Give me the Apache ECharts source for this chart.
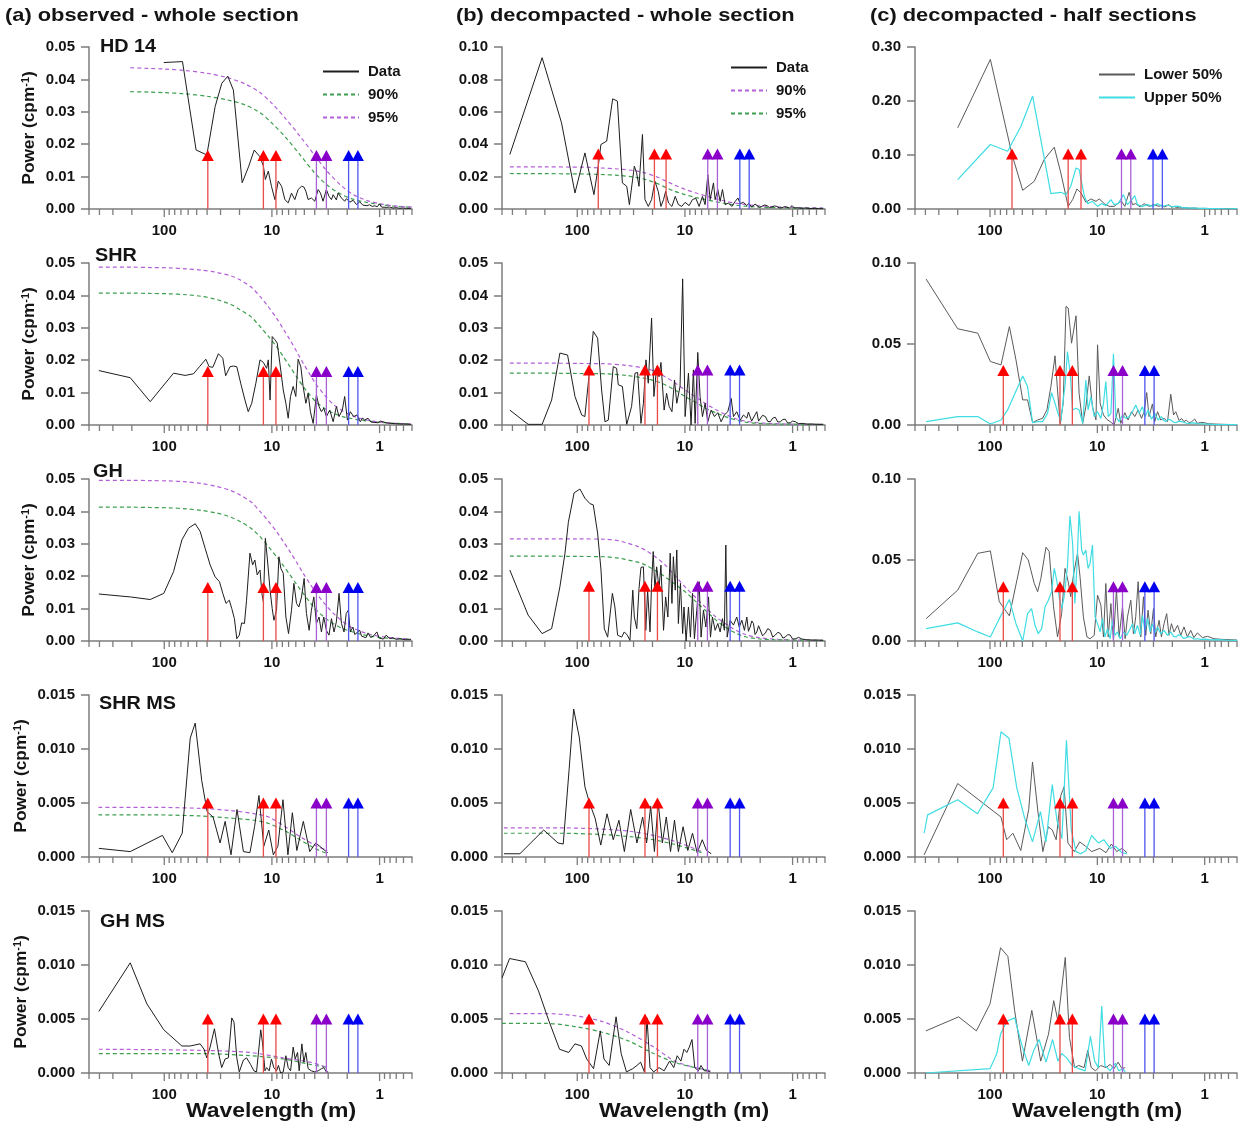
<!DOCTYPE html>
<html>
<head>
<meta charset="utf-8">
<title>Power spectra of the sections</title>
<script src="https://cdn.jsdelivr.net/npm/echarts@6.0.0/dist/echarts.min.js"></script>
<style>
html,body{margin:0;padding:0;background:#ffffff;}
#chart{width:1240px;height:1124px;}
</style>
</head>
<body>
<div id="chart"></div>
<script>
// ---------------------------------------------------------------------------
// Spectra: [wavelength (m), power (cpm^-1)]
// ---------------------------------------------------------------------------

// (a) observed - whole section
const hd14Obs = [[101,.0452],[67.7,.0455],[50.6,.0182],[40.2,.0167],[33.7,.0316],[29.2,.0388],[25.7,.0410],[22.8,.0367],[18.9,.0081],[16.5,.0130],[14.6,.0182],[12.9,.0161],[12.0,.0132],[11.5,.0091],[10.8,.0117],[10.1,.0070],[9.38,.0029],[8.74,.0086],[8.13,.0070],[7.58,.0029],[7.06,.0019],[6.58,.0049],[6.13,.0029],[5.71,.0060],[5.31,.0070],[5.05,.0068],[4.84,.0055],[4.61,.0029],[4.30,.0034],[4.00,.0024],[3.72,.0060],[3.54,.0049],[3.35,.0024],[3.12,.0060],[2.95,.0039],[2.80,.0029],[2.70,.0044],[2.61,.0039],[2.52,.0028],[2.43,.0049],[2.26,.0034],[2.18,.0040],[2.11,.0024],[2.03,.0032],[1.96,.0029],[1.89,.0021],[1.83,.0019],[1.76,.0027],[1.70,.0024],[1.64,.0014],[1.59,.0016],[1.53,.0022],[1.48,.0024],[1.43,.0012],[1.38,.0016],[1.31,.0010],[1.24,.0013],[1.17,.0008],[1.11,.0010],[1.05,.0007],[1.0,.0016],[0.96,.0006],[0.93,.0010],[0.87,.0005],[0.81,.0006],[0.75,.0003],[0.70,.0004],[0.65,.0002],[0.61,.0003],[0.56,.0002],[0.51,.0002]];
const hd14Obs90 = [[207,.0362],[140,.0361],[100,.0359],[66,.0356],[40,.0348],[26.3,.0337],[18,.0322],[13,.0298],[10,.0265],[7.5,.0222],[5.5,.0168],[4.1,.0115],[3.1,.0075],[2.3,.0046],[1.75,.0030],[1.3,.0020],[0.95,.0013],[0.7,.0008],[0.5,.0006]];
const hd14Obs95 = [[207,.0436],[140,.0434],[100,.0432],[66,.0428],[40,.0419],[26.3,.0406],[18,.0387],[13,.0360],[10,.0326],[7.5,.0280],[5.5,.0225],[4.1,.0170],[3.1,.0118],[2.3,.0074],[1.75,.0044],[1.3,.0026],[0.95,.0015],[0.7,.0009],[0.5,.0006]];

const shrObs = [[405,.0168],[207,.0146],[135,.0072],[82,.0160],[64,.0153],[53.5,.0158],[47.1,.0180],[41.1,.0203],[38.3,.0180],[35.4,.0178],[31.4,.0220],[28.6,.0206],[26.9,.0152],[24.5,.0180],[22.8,.0182],[21.2,.0180],[19.5,.0129],[17.8,.0077],[16.6,.0041],[15.4,.0067],[14.1,.0129],[12.9,.0201],[12.0,.0193],[11.2,.0175],[10.8,.0201],[10.4,.0077],[9.94,.0273],[9.38,.0263],[8.93,.0253],[8.44,.0191],[7.85,.0108],[7.42,.0067],[7.06,.0021],[6.72,.0088],[6.35,.0119],[6.0,.0088],[5.71,.0203],[5.39,.0180],[5.13,.0119],[4.84,.0067],[4.61,.0098],[4.39,.0041],[4.14,.0005],[3.86,.0093],[3.65,.0057],[3.47,.0041],[3.30,.0052],[3.12,.0026],[2.90,.0046],[2.70,.0010],[2.52,.0057],[2.38,.0026],[2.22,.0046],[2.11,.0088],[1.99,.0015],[1.87,.0041],[1.74,.0026],[1.62,.0031],[1.51,.0010],[1.44,.0022],[1.38,.0015],[1.28,.0021],[1.20,.0009],[1.15,.0010],[1.04,.0007],[0.98,.0012],[0.93,.0010],[0.85,.0006],[0.78,.0005],[0.71,.0004],[0.65,.0003],[0.58,.0003],[0.51,.0002]];
const shrObs90 = [[405,.0407],[200,.0407],[135,.0406],[90,.0405],[62,.0402],[45,.0397],[32.5,.0387],[24,.0372],[19.8,.0356],[15.5,.0333],[12.9,.0304],[10.8,.0274],[9.06,.0242],[7.8,.0210],[6.8,.0180],[5.9,.0149],[5.13,.0119],[4.4,.0091],[3.86,.0070],[3.2,.0050],[2.7,.0037],[2.2,.0026],[1.9,.0021],[1.5,.0015],[1.2,.0011],[0.93,.0007],[0.7,.0005],[0.51,.0003]];
const shrObs95 = [[405,.0487],[200,.0487],[135,.0486],[90,.0485],[62,.0482],[45,.0478],[32.5,.0471],[24,.0460],[19.8,.0448],[15.5,.0425],[12.9,.0397],[10.8,.0365],[9.06,.0330],[7.8,.0295],[6.8,.0263],[5.9,.0227],[5.13,.0191],[4.4,.0154],[3.86,.0124],[3.2,.0090],[2.7,.0064],[2.2,.0043],[1.9,.0032],[1.5,.0020],[1.2,.0013],[0.93,.0008],[0.7,.0005],[0.51,.0003]];

const ghObs = [[405,.0145],[207,.0136],[135,.0128],[101,.0147],[82,.0214],[68.6,.0312],[59.6,.0348],[51.6,.0362],[46.4,.0338],[41.7,.0286],[37.5,.0235],[33.7,.0198],[30.7,.0183],[28.6,.0147],[26.7,.0116],[24.9,.0126],[23.6,.0100],[22.3,.0069],[21.2,.0007],[20.1,.0018],[19.1,.0056],[18.0,.0054],[17.2,.0126],[16.0,.0271],[15.1,.0235],[14.4,.0250],[13.7,.0204],[12.9,.0219],[12.4,.0147],[12.0,.0121],[11.5,.0317],[11.0,.0250],[10.4,.0157],[9.94,.0100],[9.58,.0064],[9.06,.0095],[8.61,.0260],[8.26,.0224],[7.85,.0209],[7.42,.0074],[7.01,.0023],[6.58,.0095],[6.25,.0178],[5.91,.0116],[5.62,.0105],[5.31,.0136],[5.02,.0193],[4.78,.0085],[4.51,.0033],[4.30,.0095],[4.08,.0136],[3.86,.0054],[3.65,.0074],[3.47,.0028],[3.30,.0074],[3.12,.0033],[2.95,.0018],[2.80,.0069],[2.65,.0028],[2.52,.0059],[2.38,.0147],[2.26,.0054],[2.14,.0028],[2.04,.0085],[1.95,.0095],[1.87,.0028],[1.77,.0043],[1.70,.0020],[1.64,.0023],[1.53,.0033],[1.47,.0015],[1.41,.0018],[1.34,.0010],[1.28,.0025],[1.21,.0011],[1.15,.0014],[1.06,.0028],[1.01,.0009],[0.97,.0012],[0.92,.0006],[0.87,.0018],[0.80,.0007],[0.75,.0010],[0.70,.0005],[0.65,.0007],[0.58,.0004],[0.51,.0004]];
const ghObs90 = [[405,.0413],[200,.0413],[135,.0412],[90,.0411],[62,.0408],[45,.0403],[32.5,.0395],[24,.0382],[19.8,.0369],[15.5,.0347],[12.9,.0322],[10.8,.0292],[9.06,.0260],[7.8,.0232],[6.8,.0204],[5.9,.0175],[5.13,.0147],[4.4,.0118],[3.86,.0095],[3.2,.0071],[2.7,.0054],[2.2,.0038],[1.9,.0031],[1.5,.0021],[1.2,.0015],[0.93,.0010],[0.7,.0007],[0.51,.0006]];
const ghObs95 = [[405,.0496],[200,.0496],[135,.0495],[90,.0494],[62,.0491],[45,.0486],[32.5,.0477],[24,.0464],[19.8,.0451],[15.5,.0428],[12.9,.0400],[10.8,.0370],[9.06,.0338],[7.8,.0306],[6.8,.0276],[5.9,.0243],[5.13,.0209],[4.4,.0175],[3.86,.0147],[3.2,.0113],[2.7,.0086],[2.2,.0060],[1.9,.0045],[1.5,.0030],[1.2,.0020],[0.93,.0013],[0.7,.0009],[0.51,.0006]];

const shrMsObs = [[405,.0008],[207,.0005],[104,.0020],[84.3,.0004],[68.1,.0022],[57.4,.0110],[51.6,.0124],[44.9,.0071],[40,.0042],[35.2,.0037],[30.3,.0013],[27.2,.0033],[24,.0002],[21.1,.0044],[18.4,.0005],[16,.0004],[14.5,.0028],[13.2,.0057],[11.9,.0010],[10.7,.0025],[9.7,.0002],[8.8,.0010],[7.9,.0053],[7.1,.0002],[6.46,.0041],[5.87,.0006],[5.11,.0033],[4.45,.0005],[3.92,.0013],[3.41,.0008],[3.03,.0004]];
const shrMsObs90 = [[408,.0039],[134,.0039],[46.4,.0038],[24.5,.0036],[14.4,.0034],[10.7,.0031],[7.5,.0024],[5.5,.0016],[4.0,.0008],[3.05,.0003]];
const shrMsObs95 = [[408,.0046],[134,.0046],[46.4,.0045],[24.5,.0043],[14.4,.0040],[10.7,.0037],[7.5,.0028],[5.5,.0019],[4.0,.0011],[3.05,.0006]];

const ghMsObs = [[405,.0057],[207,.0102],[145,.0064],[101,.0040],[68.6,.0025],[57.4,.0025],[46.4,.0027],[42.7,.0022],[40.3,.0014],[37.5,.0024],[34.2,.0041],[31.4,.0019],[29.3,.0005],[27.2,.0013],[25.4,.0014],[23.6,.0051],[22.5,.0047],[21.2,.0014],[20.1,.0001],[18.4,.0012],[17.2,.0014],[15.8,.0008],[14.7,.0002],[13.9,.0001],[12.7,.0040],[12.2,.0027],[11.6,.0002],[11.2,.0005],[10.6,.0002],[10.1,.0013],[9.6,.0005],[9.05,.0002],[8.7,.0007],[8.3,.0000],[7.85,.0001],[7.42,.0016],[7.06,.0005],[6.71,.0002],[6.35,.0024],[6.08,.0013],[5.78,.0019],[5.58,.0002],[5.27,.0027],[5.05,.0010],[4.84,.0019],[4.61,.0004],[4.30,.0002],[4.0,.0001],[3.72,.0002],[3.47,.0004],[3.30,.0005],[3.12,.0001],[3.0,.0001]];
const ghMsObs90 = [[405,.0018],[46.4,.0018],[16,.0016],[7.85,.0013],[4.43,.0008],[3.0,.0005]];
const ghMsObs95 = [[405,.0022],[46.4,.0021],[16,.0019],[7.85,.0014],[4.43,.0010],[3.0,.0005]];

// (b) decompacted - whole section
const hd14Dec = [[423,.0336],[212,.0934],[140,.0532],[105,.0099],[84.9,.0346],[70,.0089],[63.8,.0264],[60.3,.0398],[53.3,.0419],[46.9,.0680],[42.4,.0666],[38.1,.0161],[34.7,.0140],[32.8,.0027],[29.5,.0264],[28.1,.0223],[26.7,.0140],[24.8,.0460],[23.5,.0058],[21.9,.0016],[20.4,.0058],[19.0,.0171],[17.7,.0109],[16.7,.0016],[15.8,.0058],[15.1,.0109],[14.2,.0037],[13.2,.0016],[12.3,.0078],[11.5,.0027],[10.7,.0016],[9.96,.0041],[9.14,.0021],[8.51,.0058],[7.92,.0066],[7.38,.0016],[6.87,.0078],[6.49,.0027],[6.13,.0212],[5.83,.0058],[5.43,.0161],[5.24,.0058],[4.95,.0120],[4.71,.0047],[4.48,.0120],[4.23,.0027],[3.94,.0037],[3.67,.0016],[3.41,.0047],[3.22,.0068],[3.07,.0033],[2.86,.0041],[2.66,.0021],[2.56,.0034],[2.48,.0027],[2.40,.0012],[2.31,.0016],[2.23,.0030],[2.15,.0029],[2.04,.0011],[1.93,.0016],[1.83,.0025],[1.73,.0021],[1.64,.0009],[1.56,.0012],[1.48,.0019],[1.40,.0016],[1.33,.0007],[1.26,.0008],[1.19,.0014],[1.13,.0012],[1.07,.0006],[1.01,.0021],[0.96,.0006],[0.91,.0008],[0.83,.0004],[0.76,.0006],[0.69,.0003],[0.62,.0004],[0.57,.0002],[0.52,.0002]];
const hd14Dec90 = [[423,.0260],[200,.0260],[120,.0259],[85,.0258],[60,.0253],[41.6,.0247],[30,.0237],[23.5,.0223],[18.5,.0200],[15.3,.0175],[12.5,.0148],[10,.0122],[8,.0100],[6.5,.0082],[5.2,.0064],[4.2,.0048],[3.4,.0036],[2.75,.0028],[2.1,.0021],[1.66,.0016],[1.2,.0011],[0.8,.0008],[0.52,.0006]];
const hd14Dec95 = [[423,.0219],[200,.0218],[120,.0217],[85,.0216],[60,.0213],[41.6,.0208],[30,.0197],[23.5,.0183],[18.5,.0160],[15.3,.0135],[12.5,.0110],[10,.0089],[8,.0072],[6.5,.0058],[5.2,.0045],[4.2,.0034],[3.4,.0024],[2.75,.0017],[2.1,.0012],[1.66,.0009],[1.2,.0007],[0.8,.0005],[0.52,.0004]];

const shrDec = [[423,.0046],[286,.0002],[212,.0002],[173,.0077],[145,.0222],[123,.0216],[105,.0088],[91,.0031],[85,.0026],[77.9,.0149],[71,.0289],[64.7,.0268],[59.4,.0108],[55.3,.0010],[51.5,.0015],[46.3,.0180],[43.1,.0175],[41.6,.0124],[38.1,.0119],[34.7,.0002],[31.3,.0057],[29.1,.0160],[27.5,.0162],[25.6,.0005],[24.3,.0067],[23.0,.0201],[21.9,.0129],[20.4,.0330],[19.4,.0088],[18.3,.0180],[17.4,.0149],[16.7,.0193],[15.6,.0046],[14.8,.0098],[14.0,.0057],[13.2,.0041],[12.5,.0139],[11.9,.0067],[11.1,.0119],[10.5,.0451],[9.96,.0026],[9.27,.0160],[8.77,.0000],[8.34,.0170],[8.04,.0005],[7.60,.0224],[7.23,.0088],[6.87,.0026],[6.49,.0067],[6.13,.0010],[5.71,.0046],[5.32,.0026],[4.95,.0038],[4.61,.0010],[4.30,.0031],[4.00,.0041],[3.72,.0082],[3.54,.0026],[3.30,.0041],[3.07,.0015],[2.86,.0031],[2.66,.0021],[2.57,.0040],[2.48,.0036],[2.40,.0012],[2.31,.0018],[2.22,.0033],[2.15,.0041],[2.07,.0012],[2.0,.0015],[1.90,.0030],[1.79,.0026],[1.70,.0011],[1.61,.0010],[1.53,.0021],[1.45,.0024],[1.37,.0009],[1.30,.0010],[1.23,.0017],[1.17,.0018],[1.11,.0006],[1.05,.0007],[1.0,.0012],[0.94,.0010],[0.88,.0004],[0.82,.0005],[0.74,.0003],[0.66,.0003],[0.59,.0002],[0.52,.0002]];
const shrDec90 = [[423,.0191],[200,.0191],[100,.0190],[55.3,.0189],[35,.0184],[23.5,.0175],[18.5,.0164],[15.3,.0149],[12.3,.0130],[9.96,.0108],[8,.0087],[6.49,.0067],[5.2,.0048],[4.23,.0033],[3.4,.0020],[2.75,.0012],[2.1,.0007],[1.66,.0005],[1.1,.0003],[0.52,.0002]];
const shrDec95 = [[423,.0160],[200,.0160],[100,.0159],[55.3,.0158],[35,.0153],[23.5,.0144],[18.5,.0135],[15.3,.0124],[12.3,.0107],[9.96,.0088],[8,.0070],[6.49,.0052],[5.2,.0038],[4.23,.0026],[3.4,.0016],[2.75,.0009],[2.1,.0005],[1.5,.0003],[0.52,.0002]];

const ghDec = [[423,.0219],[286,.0080],[212,.0023],[173,.0038],[145,.0167],[130,.0271],[121,.0366],[107,.0457],[94.4,.0469],[85,.0441],[76.3,.0424],[71,.0420],[64.7,.0333],[60.2,.0219],[56.1,.0038],[52.2,.0012],[47.2,.0147],[44.7,.0105],[42.2,.0018],[38.7,.0012],[36.6,.0028],[34.3,.0018],[32.4,.0002],[30.5,.0157],[29.5,.0074],[28.0,.0038],[26.7,.0162],[25.6,.0227],[24.3,.0229],[23.1,.0033],[22.2,.0157],[21.1,.0028],[20.4,.0178],[19.7,.0276],[19.0,.0157],[18.3,.0229],[17.4,.0162],[16.7,.0234],[15.8,.0033],[15.1,.0136],[14.4,.0074],[13.7,.0271],[13.2,.0116],[12.8,.0260],[12.3,.0157],[11.9,.0281],[11.5,.0054],[11.0,.0178],[10.5,.0023],[10.2,.0105],[9.75,.0000],[9.27,.0105],[8.89,.0012],[8.51,.0147],[8.16,.0007],[7.76,.0095],[7.38,.0183],[7.08,.0012],[6.73,.0095],[6.39,.0043],[6.04,.0136],[5.79,.0012],[5.55,.0074],[5.24,.0033],[4.95,.0054],[4.71,.0028],[4.48,.0069],[4.30,.0033],[4.17,.0296],[4.05,.0012],[3.80,.0064],[3.54,.0049],[3.30,.0074],[3.13,.0043],[2.96,.0064],[2.80,.0033],[2.66,.0074],[2.57,.0030],[2.48,.0043],[2.39,.0062],[2.31,.0054],[2.23,.0020],[2.15,.0028],[2.07,.0047],[2.0,.0043],[1.90,.0016],[1.79,.0025],[1.70,.0038],[1.61,.0033],[1.53,.0012],[1.45,.0018],[1.37,.0027],[1.30,.0023],[1.23,.0009],[1.17,.0012],[1.11,.0020],[1.05,.0018],[1.0,.0006],[0.94,.0007],[0.88,.0011],[0.82,.0006],[0.74,.0004],[0.66,.0003],[0.59,.0003],[0.52,.0002]];
const ghDec90 = [[423,.0315],[200,.0315],[100,.0315],[55,.0314],[42,.0310],[36,.0304],[28,.0293],[23.5,.0281],[18.5,.0258],[15.3,.0235],[12.3,.0201],[9.96,.0167],[8,.0135],[6.49,.0105],[5.2,.0075],[4.23,.0054],[3.4,.0034],[2.75,.0020],[2.1,.0011],[1.5,.0006],[1.0,.0003],[0.52,.0002]];
const ghDec95 = [[423,.0262],[200,.0262],[100,.0261],[55,.0260],[42,.0256],[36,.0252],[28,.0244],[23.5,.0235],[18.5,.0216],[15.3,.0198],[12.3,.0175],[9.96,.0152],[8,.0123],[6.49,.0095],[5.2,.0066],[4.23,.0043],[3.4,.0025],[2.75,.0013],[2.1,.0007],[1.5,.0004],[0.52,.0002]];

const shrMsDec = [[480,.0003],[341,.0003],[205,.0025],[151,.0013],[135,.0012],[119,.0081],[108,.0137],[95.8,.0111],[84.9,.0065],[76.9,.0050],[68.3,.0036],[60.5,.0011],[52.9,.0040],[46.3,.0016],[41,.0034],[36.5,.0005],[31.9,.0044],[27.9,.0013],[24.7,.0037],[22.7,.0013],[20.8,.0047],[19.2,.0005],[17.7,.0050],[16.2,.0013],[14.9,.0037],[13.6,.0005],[12.5,.0034],[11.5,.0005],[10.4,.0028],[9.4,.0006],[8.5,.0022],[7.7,.0004],[6.9,.0016],[6.3,.0006],[5.7,.0003]];
const shrMsDec90 = [[480,.0027],[150,.0027],[63.8,.0026],[33.5,.0024],[19.6,.0020],[12.9,.0015],[9.3,.0010],[7.0,.0005]];
const shrMsDec95 = [[480,.0022],[150,.0022],[63.8,.0021],[33.5,.0019],[19.6,.0016],[12.9,.0012],[9.3,.0008],[7.0,.0004]];

const ghMsDec = [[500,.0088],[425,.0106],[303,.0103],[229,.0076],[183,.0048],[146,.0022],[120,.0019],[105,.0027],[91.4,.0025],[81.7,.0013],[70.6,.0004],[61.1,.0039],[56.5,.0013],[50.5,.0007],[43.6,.0052],[39.1,.0018],[34.9,.0001],[30.5,.0004],[27.9,.0007],[25.8,.0010],[23.8,.0001],[22.5,.0051],[21.1,.0005],[19.5,.0001],[17.4,.0005],[15.6,.0002],[13.9,.0011],[12.7,.0005],[11.8,.0016],[10.9,.0011],[10.2,.0022],[9.6,.0019],[9.1,.0024],[8.6,.0031],[8.1,.0005],[7.5,.0002],[7.1,.0007],[6.6,.0002],[6.2,.0002],[5.8,.0001]];
const ghMsDec90 = [[425,.0055],[200,.0055],[105,.0053],[60,.0048],[34,.0038],[19.5,.0024],[11.8,.0010],[5.8,.0002]];
const ghMsDec95 = [[500,.0046],[200,.0046],[105,.0043],[60,.0038],[34,.0030],[19.5,.0018],[11.8,.0009],[5.8,.0002]];

// (c) decompacted - half sections
const hd14Lower = [[200,.1503],[99.3,.277],[62.4,.1008],[49.6,.0346],[38.7,.0513],[31.3,.0915],[25.2,.1144],[21.9,.0668],[18.7,.0049],[17.0,.0173],[15.5,.0371],[14.2,.0297],[12.8,.0124],[11.5,.0186],[10.3,.0142],[9.6,.0186],[8.6,.0099],[7.76,.0049],[6.97,.0049],[6.39,.0111],[5.96,.0142],[5.55,.0049],[5.06,.0309],[4.71,.0080],[4.39,.0099],[4.0,.0037],[3.67,.0099],[3.29,.0049],[3.0,.0080],[2.66,.0049],[2.52,.0068],[2.39,.0037],[2.26,.0055],[2.15,.0080],[2.04,.0030],[1.93,.0049],[1.83,.0025],[1.73,.0037],[1.61,.0020],[1.50,.0025],[1.38,.0014],[1.26,.0019],[1.13,.0010],[1.01,.0012],[0.88,.0007],[0.76,.0006],[0.62,.0005],[0.5,.0004]];
const hd14Upper = [[200,.0544],[99.3,.1194],[68.5,.1070],[51.5,.1534],[40.1,.2091],[27.1,.0285],[21.9,.0309],[19.6,.0266],[17.7,.0421],[15.8,.0761],[14.8,.0730],[13.2,.0235],[12.3,.0099],[11.1,.0142],[9.96,.0049],[9.14,.0099],[8.33,.0062],[7.48,.0173],[6.97,.0080],[6.39,.0099],[5.71,.0266],[5.24,.0080],[4.71,.0186],[4.48,.0247],[4.23,.0080],[3.80,.0049],[3.41,.0080],[3.07,.0049],[2.75,.0099],[2.48,.0049],[2.22,.0074],[2.0,.0037],[1.86,.0052],[1.73,.0049],[1.61,.0022],[1.50,.0025],[1.38,.0017],[1.26,.0019],[1.13,.0010],[1.01,.0012],[0.88,.0007],[0.76,.0006],[0.62,.0005],[0.5,.0006]];

const shrLower = [[394,.0901],[200,.0594],[130,.0567],[99.3,.0392],[79,.0371],[66,.0608],[57.3,.0402],[49.6,.0155],[44.7,.0155],[40.1,.0014],[36,.0031],[32.4,.0041],[29.5,.0093],[27.1,.0237],[24.8,.0427],[23.5,.0216],[22.2,.0010],[20.8,.0134],[19.6,.0732],[18.7,.0722],[17.4,.0505],[15.8,.0674],[14.8,.0196],[13.7,.0010],[12.8,.0113],[11.9,.0303],[11.1,.0113],[10.3,.0031],[9.96,.0495],[9.42,.0134],[8.77,.0062],[8.17,.0035],[7.60,.0021],[6.97,.0000],[6.39,.0103],[6.04,.0010],[5.55,.0076],[5.17,.0031],[4.81,.0082],[4.48,.0052],[4.17,.0093],[3.88,.0041],[3.67,.0082],[3.47,.0200],[3.30,.0052],[3.07,.0130],[2.92,.0021],[2.75,.0082],[2.57,.0031],[2.39,.0041],[2.22,.0021],[2.07,.0190],[1.95,.0062],[1.86,.0082],[1.73,.0027],[1.64,.0040],[1.56,.0021],[1.48,.0030],[1.40,.0014],[1.32,.0020],[1.24,.0037],[1.17,.0010],[1.09,.0016],[1.01,.0014],[0.92,.0008],[0.82,.0006],[0.74,.0005],[0.66,.0004],[0.58,.0003],[0.5,.0002]];
const shrUpper = [[394,.0021],[200,.0052],[130,.0052],[99.3,.0006],[79,.0031],[68.6,.0093],[49.6,.0303],[44.7,.0237],[40.1,.0014],[36,.0021],[32.4,.0021],[29.1,.0072],[26.7,.0200],[24.8,.0134],[23.5,.0082],[21.9,.0021],[20.7,.0165],[19.9,.0258],[19.0,.0454],[17.9,.0320],[17.0,.0093],[15.8,.0103],[14.8,.0093],[13.7,.0010],[12.8,.0278],[12.2,.0093],[11.5,.0175],[10.7,.0052],[9.96,.0082],[9.27,.0041],[8.77,.0134],[8.34,.0268],[7.92,.0052],[7.48,.0072],[7.08,.0439],[6.73,.0052],[6.27,.0021],[5.83,.0062],[5.43,.0041],[5.06,.0052],[4.71,.0082],[4.39,.0124],[4.08,.0072],[3.80,.0113],[3.59,.0052],[3.37,.0093],[3.13,.0035],[2.92,.0072],[2.72,.0031],[2.53,.0052],[2.42,.0030],[2.31,.0021],[2.20,.0036],[2.07,.0031],[1.96,.0018],[1.86,.0014],[1.73,.0024],[1.61,.0019],[1.50,.0012],[1.40,.0010],[1.28,.0013],[1.17,.0008],[1.05,.0007],[0.94,.0006],[0.83,.0004],[0.72,.0002],[0.61,.0003],[0.5,.0002]];

const ghLower = [[394,.0138],[200,.0314],[130,.0541],[99.3,.0556],[81.9,.0242],[66,.0155],[49.6,.0545],[44,.0500],[38.7,.0355],[36,.0304],[33.6,.0386],[30.1,.0579],[28.1,.0552],[25.6,.0211],[23.5,.0025],[21.5,.0169],[20.0,.0448],[18.7,.0366],[17.7,.0273],[16.7,.0407],[15.3,.0541],[14.5,.0397],[13.5,.0149],[12.5,.0025],[11.7,.0014],[10.7,.0035],[9.96,.0283],[9.27,.0221],[8.77,.0025],[8.34,.0355],[7.92,.0025],[7.48,.0231],[7.08,.0004],[6.64,.0318],[6.27,.0025],[5.83,.0211],[5.51,.0014],[5.24,.0149],[4.88,.0252],[4.61,.0045],[4.39,.0149],[4.17,.0366],[3.94,.0025],[3.72,.0273],[3.54,.0035],[3.37,.0190],[3.18,.0045],[3.0,.0200],[2.86,.0025],[2.66,.0128],[2.53,.0025],[2.39,.0107],[2.26,.0169],[2.15,.0035],[2.04,.0107],[1.93,.0056],[1.79,.0097],[1.67,.0035],[1.56,.0087],[1.45,.0025],[1.35,.0066],[1.26,.0021],[1.17,.0050],[1.05,.0021],[0.94,.0029],[0.82,.0014],[0.69,.0010],[0.58,.0008],[0.5,.0006]];
const ghUpper = [[394,.0076],[200,.0112],[130,.0056],[99.3,.0025],[81.9,.0138],[66,.0256],[57.3,.0107],[49.6,.0000],[44.7,.0169],[41,.0200],[38.1,.0097],[35.5,.0045],[33,.0076],[30.7,.0211],[28.6,.0252],[26.7,.0304],[25.2,.0448],[23.8,.0366],[22.7,.0273],[21.5,.0200],[20.4,.0273],[19.0,.0459],[18.0,.0773],[17.0,.0603],[16.2,.0231],[15.5,.0459],[14.8,.0800],[14.0,.0562],[13.5,.0531],[12.8,.0562],[12.2,.0448],[11.7,.0479],[11.1,.0593],[10.5,.0149],[9.96,.0107],[9.42,.0056],[8.96,.0138],[8.51,.0025],[8.04,.0076],[7.60,.0014],[7.23,.0128],[6.87,.0035],[6.49,.0056],[6.13,.0014],[5.71,.0056],[5.32,.0035],[4.95,.0076],[4.71,.0107],[4.48,.0045],[4.23,.0097],[3.99,.0035],[3.80,.0159],[3.61,.0066],[3.41,.0138],[3.22,.0056],[3.07,.0107],[2.92,.0050],[2.75,.0087],[2.57,.0045],[2.39,.0066],[2.22,.0035],[2.07,.0056],[1.96,.0030],[1.86,.0025],[1.76,.0038],[1.67,.0035],[1.58,.0016],[1.50,.0019],[1.42,.0027],[1.35,.0025],[1.26,.0012],[1.17,.0014],[1.08,.0010],[0.99,.0012],[0.88,.0007],[0.76,.0008],[0.63,.0005],[0.5,.0004]];

const shrMsLower = [[411,.0002],[200,.0068],[79,.0037],[70,.0016],[61.2,.0022],[51.7,.0006],[43.6,.0044],[40.2,.0088],[35.6,.0040],[32.2,.0005],[28.6,.0028],[26.3,.0025],[24.2,.0016],[21.9,.0057],[20.4,.0065],[18.8,.0013],[16.4,.0005],[14.6,.0014],[12.9,.0010],[11.3,.0005],[9.5,.0008],[8.3,.0004],[7.4,.0012],[6.6,.0005],[5.9,.0008],[5.3,.0004]];
const shrMsUpper = [[411,.0022],[381,.0039],[200,.0053],[131,.0040],[93.6,.0064],[79,.0116],[66.7,.0110],[56.3,.0064],[47.6,.0036],[40.2,.0014],[33.9,.0042],[30.1,.0014],[26.3,.0067],[23.8,.0034],[21.4,.0017],[19.4,.0108],[17.5,.0025],[15.8,.0005],[14.3,.0003],[12.8,.0006],[11.3,.0020],[9.8,.0013],[8.7,.0016],[7.6,.0008],[6.8,.0010],[5.9,.0004],[5.3,.0003]];

const ghMsLower = [[396,.0039],[196,.0052],[134,.0039],[100,.0064],[79.8,.0116],[68.2,.0108],[59,.0058],[49.9,.0011],[40.8,.0058],[33.7,.0011],[28.5,.0036],[25.5,.0067],[23.3,.0048],[19.9,.0107],[18.2,.0033],[16.3,.0005],[14.9,.0007],[13.3,.0005],[12.3,.0021],[11.4,.0005],[10.4,.0002],[9.3,.0007],[8.3,.0005],[7.6,.0008],[7.0,.0004],[6.4,.0010],[5.9,.0004],[5.5,.0005]];
const ghMsUpper = [[396,.0000],[100,.0004],[86.5,.0018],[79.8,.0036],[69.8,.0048],[59,.0051],[49.9,.0024],[43.6,.0007],[39.1,.0021],[34.9,.0031],[30.1,.0010],[26.1,.0031],[23.3,.0011],[21.5,.0018],[19.3,.0014],[17.2,.0007],[14.9,.0004],[13,.0002],[11.6,.0034],[10.6,.0011],[9.8,.0005],[9.1,.0062],[8.5,.0007],[7.6,.0002],[6.8,.0009],[6.3,.0002],[5.8,.0004],[5.5,.0001]];

// Expected cycle wavelengths (m): 3 eccentricity, 2 obliquity, 2 precession
const cyclesObs = [39.4, 12.0, 9.18, 3.86, 3.12, 1.94, 1.59];
const cyclesDecHd14 = [63.8, 19.2, 14.96, 6.14, 4.99, 3.09, 2.53];
const cyclesDec = [77.8, 23.5, 18.0, 7.6, 6.18, 3.8, 3.11];
const cyclesHalfHd14 = [62.4, 18.7, 14.2, 5.96, 4.88, 3.03, 2.48];
const cyclesHalf = [75.2, 22.3, 17.1, 7.08, 5.83, 3.61, 2.96];
const cycleBand = [0, 0, 0, 1, 1, 2, 2];

// Axis tick positions (m)
const majorTicks = [100, 10, 1];
const minorTicks = [500, 400, 300, 200, 90, 80, 70, 60, 50, 40, 30, 20, 9, 8, 7, 6, 5, 4, 3, 2, 0.9, 0.8, 0.7, 0.6, 0.5];

const columnTitles = ['(a) observed - whole section', '(b) decompacted - whole section', '(c) decompacted - half sections'];
const sites = ['HD 14', 'SHR', 'GH', 'SHR MS', 'GH MS'];

// ---------------------------------------------------------------------------
// Layout and styles
// ---------------------------------------------------------------------------
const FONT = '"Liberation Sans", Arial, Helvetica, sans-serif';
const INK = '#141414';
const AXIS_GRAY = '#7c7c7c';
const colLeft = [89, 502, 915];
const rowTop = [47, 263, 479, 695, 911];
const PW = 323, PH = 162;

const lineKinds = {
  data:   { color: '#1e1e1e', width: 1 },
  lower:  { color: '#5a5a5a', width: 1 },
  upper:  { color: '#3fdde3', width: 1.2 },
  green:  { color: '#3c9e4e', width: 1.2, type: [4, 3] },
  purple: { color: '#b35fd8', width: 1.2, type: [4, 3] }
};
const headColors = ['#ff0000', '#8a00c8', '#0000f0'];
const shaftColors = ['#ea4a4a', '#a862d8', '#4e56f0'];

const panels = [
  // row 0 : HD 14
  { r: 0, c: 0, yMax: 0.05, yStep: 0.01, dec: 2, arrowAt: 0.0165, cycles: cyclesObs,
    lines: [['a|90%', hd14Obs90, 'green'], ['a|95%', hd14Obs95, 'purple'], ['a|Data', hd14Obs, 'data']] },
  { r: 0, c: 1, yMax: 0.10, yStep: 0.02, dec: 2, arrowAt: 0.034, cycles: cyclesDecHd14,
    lines: [['b|90%', hd14Dec90, 'purple'], ['b|95%', hd14Dec95, 'green'], ['b|Data', hd14Dec, 'data']] },
  { r: 0, c: 2, yMax: 0.30, yStep: 0.10, dec: 2, arrowAt: 0.102, cycles: cyclesHalfHd14,
    lines: [['c|Lower 50%', hd14Lower, 'lower'], ['c|Upper 50%', hd14Upper, 'upper']] },
  // row 1 : SHR
  { r: 1, c: 0, yMax: 0.05, yStep: 0.01, dec: 2, arrowAt: 0.0165, cycles: cyclesObs,
    lines: [['SHR|90%', shrObs90, 'green'], ['SHR|95%', shrObs95, 'purple'], ['SHR|Data', shrObs, 'data']] },
  { r: 1, c: 1, yMax: 0.05, yStep: 0.01, dec: 2, arrowAt: 0.0170, cycles: cyclesDec,
    lines: [['SHRd|90%', shrDec90, 'purple'], ['SHRd|95%', shrDec95, 'green'], ['SHRd|Data', shrDec, 'data']] },
  { r: 1, c: 2, yMax: 0.10, yStep: 0.05, dec: 2, arrowAt: 0.0336, cycles: cyclesHalf,
    lines: [['SHRh|Lower', shrLower, 'lower'], ['SHRh|Upper', shrUpper, 'upper']] },
  // row 2 : GH
  { r: 2, c: 0, yMax: 0.05, yStep: 0.01, dec: 2, arrowAt: 0.0165, cycles: cyclesObs,
    lines: [['GH|90%', ghObs90, 'green'], ['GH|95%', ghObs95, 'purple'], ['GH|Data', ghObs, 'data']] },
  { r: 2, c: 1, yMax: 0.05, yStep: 0.01, dec: 2, arrowAt: 0.0169, cycles: cyclesDec,
    lines: [['GHd|90%', ghDec90, 'purple'], ['GHd|95%', ghDec95, 'green'], ['GHd|Data', ghDec, 'data']] },
  { r: 2, c: 2, yMax: 0.10, yStep: 0.05, dec: 2, arrowAt: 0.0335, cycles: cyclesHalf,
    lines: [['GHh|Lower', ghLower, 'lower'], ['GHh|Upper', ghUpper, 'upper']] },
  // row 3 : SHR MS
  { r: 3, c: 0, yMax: 0.015, yStep: 0.005, dec: 3, arrowAt: 0.0050, cycles: cyclesObs,
    lines: [['SHRMS|90%', shrMsObs90, 'green'], ['SHRMS|95%', shrMsObs95, 'purple'], ['SHRMS|Data', shrMsObs, 'data']] },
  { r: 3, c: 1, yMax: 0.015, yStep: 0.005, dec: 3, arrowAt: 0.0050, cycles: cyclesDec,
    lines: [['SHRMSd|90%', shrMsDec90, 'purple'], ['SHRMSd|95%', shrMsDec95, 'green'], ['SHRMSd|Data', shrMsDec, 'data']] },
  { r: 3, c: 2, yMax: 0.015, yStep: 0.005, dec: 3, arrowAt: 0.0050, cycles: cyclesHalf,
    lines: [['SHRMSh|Lower', shrMsLower, 'lower'], ['SHRMSh|Upper', shrMsUpper, 'upper']] },
  // row 4 : GH MS
  { r: 4, c: 0, yMax: 0.015, yStep: 0.005, dec: 3, arrowAt: 0.0050, cycles: cyclesObs,
    lines: [['GHMS|90%', ghMsObs90, 'green'], ['GHMS|95%', ghMsObs95, 'purple'], ['GHMS|Data', ghMsObs, 'data']] },
  { r: 4, c: 1, yMax: 0.015, yStep: 0.005, dec: 3, arrowAt: 0.0050, cycles: cyclesDec,
    lines: [['GHMSd|90%', ghMsDec90, 'purple'], ['GHMSd|95%', ghMsDec95, 'green'], ['GHMSd|Data', ghMsDec, 'data']] },
  { r: 4, c: 2, yMax: 0.015, yStep: 0.005, dec: 3, arrowAt: 0.0050, cycles: cyclesHalf,
    lines: [['GHMSh|Lower', ghMsLower, 'lower'], ['GHMSh|Upper', ghMsUpper, 'upper']] }
];

// ---------------------------------------------------------------------------
// Option
// ---------------------------------------------------------------------------
const tickData = majorTicks.map(w => [w, 0, 1]).concat(minorTicks.map(w => [w, 0, 0]));

function decadeLabel(v) {
  const e = Math.log10(v);
  const r = Math.round(e);
  return Math.abs(e - r) < 1e-6 ? String(Math.pow(10, r)) : '';
}

const grid = [], xAxis = [], yAxis = [], series = [];

panels.forEach((p, i) => {
  grid.push({ left: colLeft[p.c], top: rowTop[p.r], width: PW, height: PH, containLabel: false });

  xAxis.push({
    type: 'log', logBase: 10, gridIndex: i, min: 0.5, max: 500, inverse: true,
    axisLine: { show: true, onZero: false, lineStyle: { color: AXIS_GRAY, width: 1.5 } },
    axisTick: { show: false },
    minorTick: { show: false },
    splitLine: { show: false },
    axisLabel: {
      margin: 14, color: INK, fontFamily: FONT, fontWeight: 'bold', fontSize: 15,
      formatter: decadeLabel, showMinLabel: true, showMaxLabel: true
    }
  });

  yAxis.push({
    type: 'value', gridIndex: i, min: 0, max: p.yMax, interval: p.yStep,
    axisLine: { show: true, onZero: false, lineStyle: { color: AXIS_GRAY, width: 1.5 } },
    axisTick: { show: true, inside: false, length: 8, lineStyle: { color: AXIS_GRAY, width: 1.5 } },
    splitLine: { show: false },
    axisLabel: {
      margin: 14, color: INK, fontFamily: FONT, fontWeight: 'bold', fontSize: 15,
      formatter: v => v.toFixed(p.dec)
    }
  });

  p.lines.forEach(([name, data, kind]) => {
    const k = lineKinds[kind];
    const isLevel = (kind === 'green' || kind === 'purple');
    series.push({
      type: 'line', name: name, xAxisIndex: i, yAxisIndex: i, data: data,
      symbol: 'none', showSymbol: false, silent: true,
      smooth: isLevel ? 0.3 : false,
      lineStyle: { color: k.color, width: k.width, type: k.type || 'solid' },
      itemStyle: { color: k.color },
      z: isLevel ? 2 : 3
    });
  });

  // cycle markers: shaft from zero to the marker level, capped by a triangle
  series.push({
    type: 'custom', xAxisIndex: i, yAxisIndex: i, silent: true, clip: false, z: 6,
    data: p.cycles.map((w, k) => [w, p.arrowAt, cycleBand[k]]),
    encode: { x: 0, y: 1 },
    renderItem: (params, api) => {
      const w = api.value(0), lv = api.value(1), band = api.value(2);
      const b = api.coord([w, 0]);
      const t = api.coord([w, lv]);
      return {
        type: 'group',
        children: [
          { type: 'line', shape: { x1: b[0], y1: b[1], x2: t[0], y2: t[1] },
            style: { stroke: shaftColors[band], lineWidth: 1.3 } },
          { type: 'polygon',
            shape: { points: [[t[0] - 6, t[1] + 5.5], [t[0] + 6, t[1] + 5.5], [t[0], t[1] - 5.5]] },
            style: { fill: headColors[band] } }
        ]
      };
    }
  });

  // logarithmic tick marks on the wavelength axis
  series.push({
    type: 'custom', xAxisIndex: i, yAxisIndex: i, silent: true, clip: false, z: 1,
    data: tickData,
    encode: { x: 0, y: 1 },
    renderItem: (params, api) => {
      const w = api.value(0), major = api.value(2);
      const pt = api.coord([w, 0]);
      return {
        type: 'line',
        shape: { x1: pt[0], y1: pt[1], x2: pt[0], y2: pt[1] + (major ? 8 : 6) },
        style: { stroke: AXIS_GRAY, lineWidth: 1.3 }
      };
    }
  });
});

const legendBase = {
  orient: 'vertical', itemWidth: 36, itemHeight: 14, itemGap: 8, padding: 0,
  selectedMode: false,
  itemStyle: { opacity: 0, borderWidth: 0 },
  formatter: n => n.split('|')[1],
  textStyle: { fontFamily: FONT, fontWeight: 'bold', fontSize: 15, color: INK, padding: [0, 0, 0, 4] }
};
const legend = [
  Object.assign({ left: 322, top: 64, data: ['a|Data', 'a|90%', 'a|95%'] }, legendBase),
  Object.assign({ left: 730, top: 60, data: ['b|Data', 'b|90%', 'b|95%'] }, legendBase),
  Object.assign({ left: 1098, top: 67, data: ['c|Lower 50%', 'c|Upper 50%'] }, legendBase)
];

// texts: column titles, site names, axis names
const graphic = [];
const titleX = [5, 456, 870];
columnTitles.forEach((t, c) => graphic.push({
  type: 'text', x: titleX[c], y: 16, scaleX: 1.15, silent: true,
  style: { text: t, fontFamily: FONT, fontWeight: 'bold', fontSize: 19, fill: INK, align: 'left', verticalAlign: 'middle' }
}));
const siteX = [100, 95, 93, 99, 100];
const siteY = [47, 256, 472, 704, 922];
sites.forEach((s, r) => graphic.push({
  type: 'text', x: siteX[r], y: siteY[r], scaleX: 1.1, silent: true,
  style: { text: s, fontFamily: FONT, fontWeight: 'bold', fontSize: 18, fill: INK, align: 'left', verticalAlign: 'middle' }
}));
const yNameX = [30, 30, 30, 22, 22];
rowTop.forEach((top, r) => graphic.push({
  type: 'text', x: yNameX[r], y: top + PH / 2, rotation: Math.PI / 2, scaleX: 1.08, silent: true,
  style: {
    text: 'Power (cpm{sup|-1})', fontFamily: FONT, fontWeight: 'bold', fontSize: 16, fill: INK,
    align: 'center', verticalAlign: 'middle',
    rich: { sup: { fontFamily: FONT, fontWeight: 'bold', fontSize: 10, fill: INK, verticalAlign: 'top', lineHeight: 18 } }
  }
}));
colLeft.forEach(left => graphic.push({
  type: 'text', x: left + 182, y: 1111, scaleX: 1.12, silent: true,
  style: { text: 'Wavelength (m)', fontFamily: FONT, fontWeight: 'bold', fontSize: 20.5, fill: INK, align: 'center', verticalAlign: 'middle' }
}));

const chart = echarts.init(document.getElementById('chart'), null, { renderer: 'canvas' });
chart.setOption({
  backgroundColor: '#ffffff',
  animation: false,
  grid: grid, xAxis: xAxis, yAxis: yAxis, series: series,
  legend: legend, graphic: graphic
});
</script>
</body>
</html>
